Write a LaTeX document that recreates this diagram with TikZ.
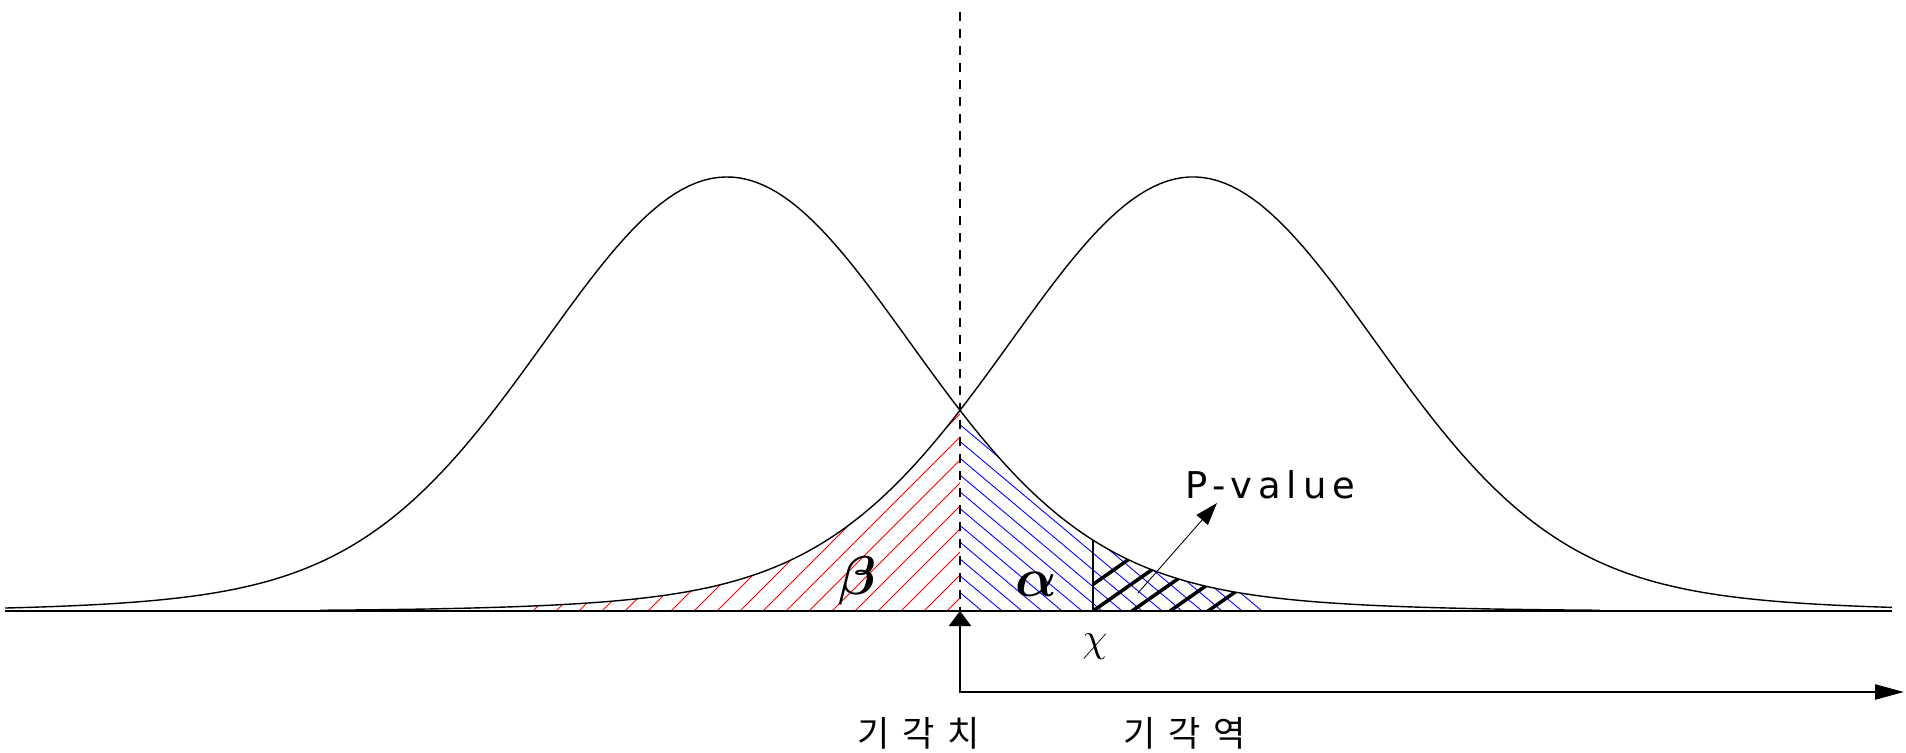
\documentclass[tikz,border=0pt]{standalone}
\usepackage{amsmath,bm}
\usepackage{fontspec}
\newfontfamily\hangulfont{Noto Sans CJK KR}[LetterSpace=36]
\newfontfamily\labelfont{DejaVu Sans}[LetterSpace=16]
\usetikzlibrary{arrows.meta,positioning}
\definecolor{betared}{RGB}{255,0,0}
\definecolor{alphablue}{RGB}{0,0,255}
\tikzset{
  declare function={
    hnull(\x)=434*(0.88*exp(-0.5*((\x-727)/178)*((\x-727)/178))+0.12*exp(-0.5*((\x-727)/300)*((\x-727)/300)));
    halt(\x)=434*(0.88*exp(-0.5*((\x-1193)/178)*((\x-1193)/178))+0.12*exp(-0.5*((\x-1193)/300)*((\x-1193)/300)));
  },
  bell/.style={black,line width=0.8pt},
  hatchline/.style={line width=0.5pt},
  critline/.style={line width=0.8pt,dash pattern=on 0.18cm off 0.16cm},
  greek/.style={font=\huge,scale=1.5},
  kor/.style={font=\hangulfont\fontsize{20}{22}\selectfont},
}

\begin{document}
\begin{tikzpicture}[x=0.02cm,y=0.02cm]
    \useasboundingbox (0,-141) rectangle (1906,611);
    % beta: alternative curve left of the critical value
    \begin{scope}
      \clip (527,0) -- plot[domain=527:960,samples=80] (\x,{halt(\x)}) -- (960,0) -- cycle;
      \foreach \c in {96,119,...,947} \draw[hatchline,betared] (\c,0) -- ++(45:700);
    \end{scope}
    % alpha: null curve right of the critical value
    \begin{scope}
      \clip (960,0) -- plot[domain=960:1262,samples=60] (\x,{hnull(\x)}) -- (1262,0) -- cycle;
      \foreach \c in {962,982,...,1470} \draw[hatchline,alphablue] (\c,0) -- ++(140:700);
    \end{scope}
    % P-value: tail beyond the observed statistic
    \begin{scope}
      \clip (1093,0) -- plot[domain=1093:1242,samples=40] (\x,{hnull(\x)}) -- (1242,0) -- cycle;
      \foreach \c in {1055,1093,1132,1170,1208} \draw[line width=2pt] (\c,0) -- ++(35:300);
    \end{scope}
    % the two bells
    \draw[bell] plot[domain=5:1600,samples=220] (\x,{hnull(\x)});
    \draw[bell] plot[domain=320:1892,samples=220] (\x,{halt(\x)});
    % axis and critical value
    \coordinate (axL) at (5,0);
    \coordinate (axR) at (1892,0);
    \draw[line width=1.5pt] (axL) -- (axR);
    \coordinate (crit) at (960,0);
    \coordinate (crittop) at (960,599);
    \draw[critline] (crittop) -- (crit);
    \coordinate (obs) at (1093,0);
    \coordinate (obstop) at (1093,{hnull(1093)});
    \draw[line width=1.6pt] (obs) -- (obstop);
    % labels
    \node[greek] (beta) at (857,30) {$\bm{\beta}$};
    \node[greek] (alpha) at (1036,27) {$\bm{\alpha}$};
    \node[font=\LARGE,scale=1.35] (stat) at (1095,-36) {$\chi$};
    \node[font=\labelfont\fontsize{21}{24}\selectfont] (pval) at (1270,126) {P-value};
    \coordinate (pfoot) at (1138,18);
    \coordinate (ptip) at (1217,108);
    \draw[line width=0.5pt,-{Triangle[length=0.45cm,width=0.3cm]}] (pfoot) -- (ptip);
    % rejection region
    \coordinate (rend) at (1904,-81);
    \draw[line width=1.3pt,{Triangle[length=0.3cm,width=0.44cm]}-{Triangle[length=0.58cm,width=0.3cm]}] (crit) |- (rend);
    \node[kor] (crittext) at (919,-122) {기각치};
    \node[kor] (regtext) at (1185,-122) {기각역};
  \end{tikzpicture}
\end{document}
